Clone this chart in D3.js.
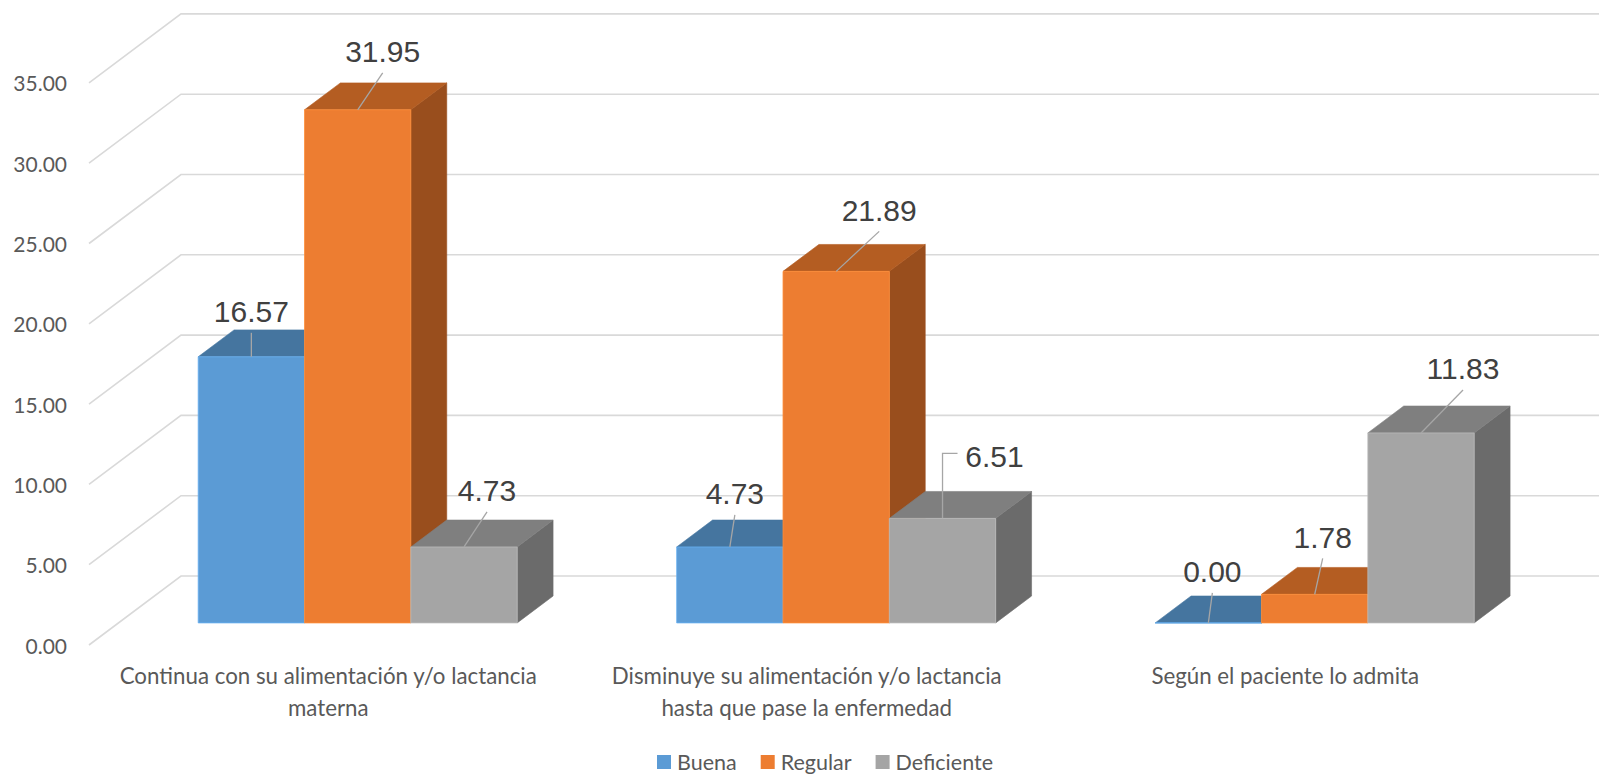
<!DOCTYPE html>
<html>
<head>
<meta charset="utf-8">
<script src="https://cdn.jsdelivr.net/npm/d3@7"></script>
<style>
  html, body { margin: 0; padding: 0; background: #fff; }
  svg { display: block; }
</style>
</head>
<body>
<svg id="chart" width="1599" height="774"></svg>
<script>
// ---- data ----
const categoryLines = [
  ["Continua con su alimentación y/o lactancia", "materna"],
  ["Disminuye su alimentación y/o lactancia", "hasta que pase la enfermedad"],
  ["Según el paciente lo admita"]
];
const series = ["Buena", "Regular", "Deficiente"];
const buena      = [16.57, 4.73, 0.00];
const regular    = [31.95, 21.89, 1.78];
const deficiente = [4.73, 6.51, 11.83];
const yTicks = [0, 5, 10, 15, 20, 25, 30, 35];

// ---- styling / layout ----
const W = 1599, H = 774;
const colors = {
  Buena:      { front: "#5b9bd5", top: "#45759f", side: "#3d6a92" },
  Regular:    { front: "#ed7d31", top: "#b45d22", side: "#994e1d" },
  Deficiente: { front: "#a5a5a5", top: "#7f7f7f", side: "#6b6b6b" }
};
// data-label placement relative to the top-front centre of each bar
const labelPlacement = {
  Buena:      [{ dx: 0,  dy: -45 }, { dx: 5,  dy: -53 }, { dx: 4,  dy: -51 }],
  Regular:    [{ dx: 25, dy: -58 }, { dx: 43, dy: -61 }, { dx: 8,  dy: -57 }],
  Deficiente: [{ dx: 23, dy: -56 }, { dx: 52, dy: -62, elbow: true }, { dx: 42, dy: -64 }]
};

const values = { Buena: buena, Regular: regular, Deficiente: deficiente };

const svg = d3.select("#chart");

// oblique 3D projection: depth runs up and to the right
const DEPTH_X = 92, DEPTH_Y = 69;
const BAR_D0 = 0.32, BAR_D1 = 0.71;

const x0 = d3.scaleBand().domain(d3.range(categoryLines.length)).range([89, 1524.5]).padding(0);
const step = x0.bandwidth();
const x1 = d3.scaleBand().domain(series).range([step / 6, step * 5 / 6]).padding(0);
const bw = x1.bandwidth();
const y = d3.scaleLinear().domain([0, 35]).range([645, 82.9]);

const proj = (x, v, d) => [x + d * DEPTH_X, y(v) - d * DEPTH_Y];
const poly = pts => "M" + pts.map(p => p.join(",")).join("L") + "Z";

// ---- gridlines (side wall + back wall) ----
const left = x0.range()[0];
const grid = svg.append("g").attr("fill", "none").attr("stroke", "#d9d9d9").attr("stroke-width", 1.6);
yTicks.forEach(t => {
  const a = proj(left, t, 0), b = proj(left, t, 1);
  grid.append("path").attr("d", `M${a[0]},${a[1]}L${b[0]},${b[1]}L${W},${b[1]}`);
});

// ---- value axis labels ----
const fmt = d3.format(".2f");
svg.append("g").selectAll("text").data(yTicks).join("text")
  .attr("x", 67).attr("y", d => y(d))
  .attr("text-anchor", "end").attr("dominant-baseline", "central")
  .attr("font-family", "Lato, 'Open Sans', sans-serif").attr("font-size", 21)
  .attr("fill", "#595959")
  .text(d => fmt(d));

// ---- bars ----
const barsG = svg.append("g");
categoryLines.forEach((c, i) => {
  series.forEach(s => {
    const v = values[s][i];
    const xl = x0(i) + x1(s), xr = xl + bw;
    const col = colors[s];
    const g = barsG.append("g");
    g.append("path").attr("d", poly([proj(xr, 0, BAR_D0), proj(xr, 0, BAR_D1), proj(xr, v, BAR_D1), proj(xr, v, BAR_D0)]))
      .attr("fill", col.side).attr("stroke", col.side).attr("stroke-width", 0.6);
    g.append("path").attr("d", poly([proj(xl, v, BAR_D0), proj(xr, v, BAR_D0), proj(xr, v, BAR_D1), proj(xl, v, BAR_D1)]))
      .attr("fill", col.top).attr("stroke", col.top).attr("stroke-width", 0.6);
    g.append("path").attr("d", poly([proj(xl, 0, BAR_D0), proj(xr, 0, BAR_D0), proj(xr, v, BAR_D0), proj(xl, v, BAR_D0)]))
      .attr("fill", col.front).attr("stroke", d3.color(col.front).brighter(0.35)).attr("stroke-width", 0.8);
  });
});

// ---- data labels with leader lines ----
const labelsG = svg.append("g");
categoryLines.forEach((c, i) => {
  series.forEach(s => {
    const v = values[s][i];
    const xc = x0(i) + x1(s) + bw / 2;
    const [ax, ay] = proj(xc, v, BAR_D0);
    const p = labelPlacement[s][i];
    const tx = ax + p.dx, ty = ay + p.dy;
    const lead = p.elbow
      ? `M${ax},${ay}L${ax},${ty - 3}L${tx - 37},${ty - 3}`
      : `M${ax},${ay}L${tx},${ty + 21}`;
    labelsG.append("path").attr("d", lead).attr("fill", "none")
      .attr("stroke", "#a6a6a6").attr("stroke-width", 1.3);
    labelsG.append("text")
      .attr("x", tx).attr("y", ty)
      .attr("text-anchor", "middle").attr("dominant-baseline", "central")
      .attr("font-family", "'Liberation Sans', Arial, sans-serif").attr("font-size", 30)
      .attr("fill", "#404040")
      .text(fmt(v));
  });
});

// ---- category axis labels ----
const catG = svg.append("g");
categoryLines.forEach((lines, i) => {
  const cx = x0(i) + step / 2;
  const t = catG.append("text")
    .attr("text-anchor", "middle")
    .attr("font-family", "Lato, 'Open Sans', sans-serif").attr("font-size", 22.3)
    .attr("fill", "#595959");
  lines.forEach((ln, k) => {
    t.append("tspan").attr("x", cx).attr("y", 675 + k * 32)
      .attr("dominant-baseline", "central").text(ln);
  });
});

// ---- legend ----
const legend = svg.append("g");
let lx = 657;
series.forEach(s => {
  legend.append("rect").attr("x", lx).attr("y", 755).attr("width", 14).attr("height", 14)
    .attr("fill", colors[s].front);
  const txt = legend.append("text").attr("x", lx + 20).attr("y", 762)
    .attr("dominant-baseline", "central")
    .attr("font-family", "Lato, 'Open Sans', sans-serif").attr("font-size", 21.5)
    .attr("fill", "#595959").text(s);
  lx += 20 + txt.node().getComputedTextLength() + 24;
});
</script>
</body>
</html>
